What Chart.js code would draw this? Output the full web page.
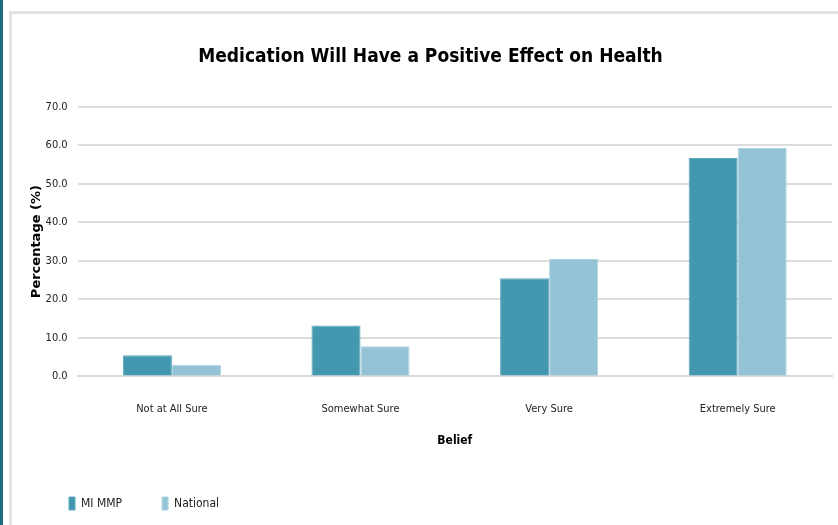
<!DOCTYPE html>
<html>
<head>
<meta charset="utf-8">
<script src="https://cdn.jsdelivr.net/npm/chart.js@4.4.0/dist/chart.umd.min.js"></script>
<style>
  html, body { margin: 0; padding: 0; background: #fff; }
  .wrap { position: relative; width: 838px; height: 525px; overflow: hidden; }
  .teal { position: absolute; left: 0; top: 0; width: 3px; height: 525px; background: #1d6f80; }
  .frame { position: absolute; left: 9px; top: 11px; width: 900px; height: 600px; border: 3px solid #e2e2e2; box-sizing: border-box; }
  canvas { position: absolute; left: 0; top: 0; }
</style>
</head>
<body>
<div class="wrap">
  <div class="teal"></div>
  <div class="frame"></div>
  <canvas id="chart" width="838" height="525"></canvas>
</div>
<script>
// ── Data ──
const CATEGORIES = ['Not at All Sure', 'Somewhat Sure', 'Very Sure', 'Extremely Sure'];
const MI_MMP = [5.5, 13.2, 25.5, 56.7];
const NATIONAL = [3.0, 7.8, 30.5, 59.3];
const Y_MIN = 0, Y_MAX = 70, Y_STEP = 10;

const FONT = '"DejaVu Sans Condensed", sans-serif';

new Chart(document.getElementById('chart'), {
  type: 'bar',
  data: {
    labels: CATEGORIES,
    datasets: [
      { label: 'MI MMP', data: MI_MMP, backgroundColor: '#4398b0', borderColor: '#5eaac0', borderWidth: 1 },
      { label: 'National', data: NATIONAL, backgroundColor: '#93c3d5', borderColor: '#afd4e2', borderWidth: 1 }
    ]
  },
  options: {
    responsive: false, animation: false,
    layout: { padding: { left: 29, right: 6, top: 46, bottom: 5 } },
    datasets: { bar: { categoryPercentage: 0.52, barPercentage: 1 } },
    plugins: {
      title: {
        display: true,
        text: 'Medication Will Have a Positive Effect on Health',
        font: { family: FONT, size: 19, weight: 'bold' },
        color: '#000',
        padding: { top: 0, bottom: 38 }
      },
      legend: {
        position: 'bottom', align: 'start',
        labels: {
          font: { family: FONT, size: 12 }, color: '#222',
          boxWidth: 6, boxHeight: 13, padding: 40
        }
      },
      tooltip: { enabled: false }
    },
    scales: {
      x: {
        grid: { display: false },
        border: { color: '#d9d9d9', width: 2 },
        ticks: { font: { family: FONT, size: 11 }, color: '#222', padding: 18 },
        title: { display: true, text: 'Belief', font: { family: FONT, size: 12, weight: 'bold' }, color: '#000', padding: { top: 0, bottom: 9 } }
      },
      y: {
        min: Y_MIN, max: Y_MAX,
        grid: { color: '#dcdcdc', lineWidth: 2, drawTicks: false },
        border: { display: false },
        ticks: {
          stepSize: Y_STEP, padding: 10,
          font: { family: FONT, size: 11 }, color: '#222',
          callback: v => v.toFixed(1)
        },
        title: {
          display: true, text: 'Percentage (%)',
          font: { family: '"DejaVu Sans"', size: 13, weight: 'bold' }, color: '#000',
          padding: { top: 0, bottom: -9 }
        }
      }
    }
  }
});
</script>
</body>
</html>
